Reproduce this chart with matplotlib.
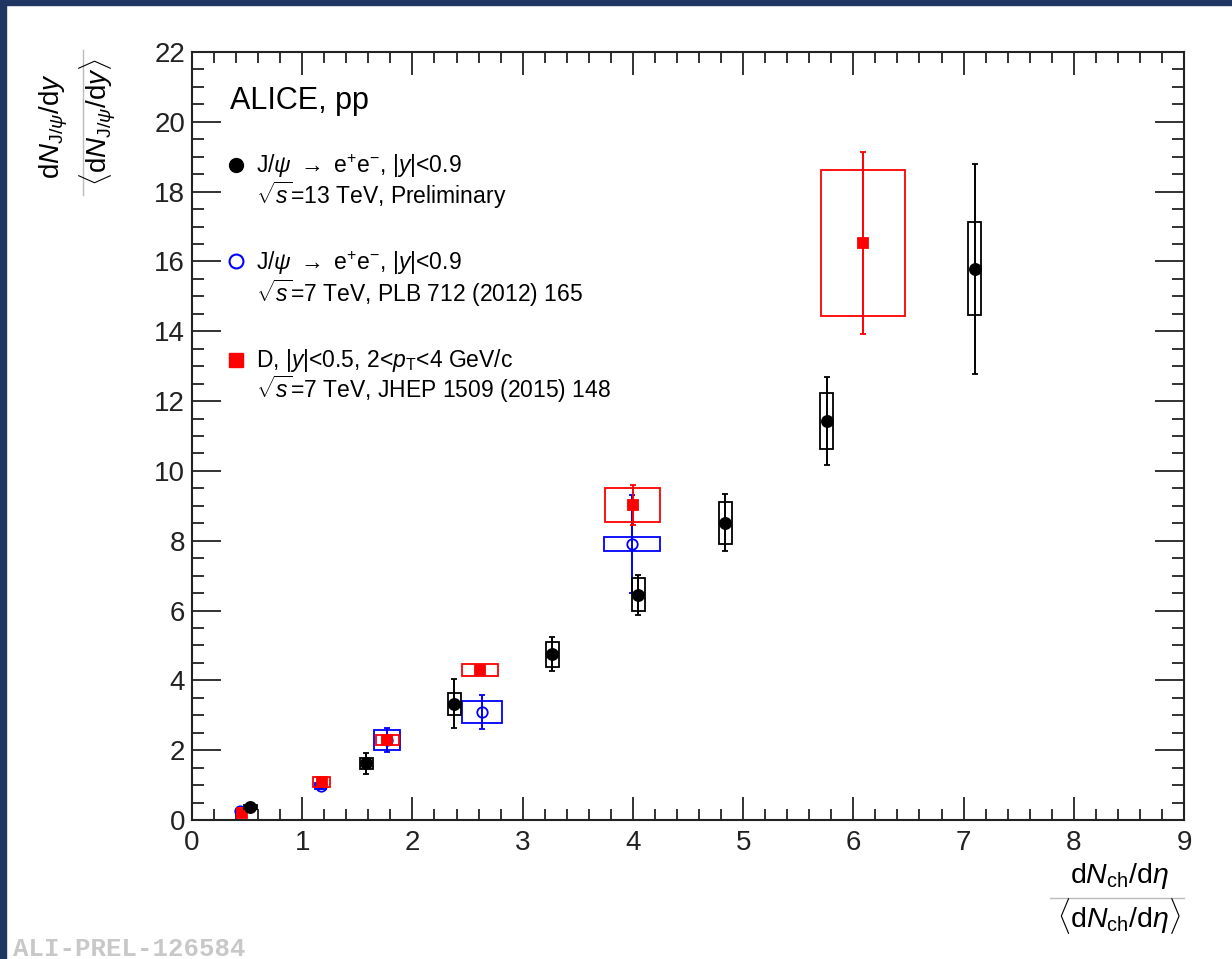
import numpy as np
import matplotlib
matplotlib.use('Agg')
import matplotlib.pyplot as plt
from matplotlib.patches import Rectangle
from matplotlib.lines import Line2D
from matplotlib.ticker import MultipleLocator

plt.rcParams['font.family'] = ['Liberation Sans', 'DejaVu Sans']
plt.rcParams['mathtext.fontset'] = 'custom'
plt.rcParams['mathtext.rm'] = 'Liberation Sans'
plt.rcParams['mathtext.it'] = 'Liberation Sans:italic'
plt.rcParams['mathtext.bf'] = 'Liberation Sans:bold'

# J/psi, pp 13 TeV (preliminary)
jpsi13_x = [0.53, 1.58, 2.38, 3.27, 4.05, 4.84, 5.76, 7.10]
jpsi13_y = [0.37, 1.62, 3.33, 4.75, 6.45, 8.52, 11.43, 15.79]
jpsi13_stat = [0.05, 0.31, 0.70, 0.49, 0.58, 0.82, 1.25, 3.00]
jpsi13_syst = [0.05, 0.15, 0.32, 0.36, 0.47, 0.60, 0.80, 1.33]
jpsi13_xw = [0.06, 0.06, 0.06, 0.06, 0.06, 0.06, 0.06, 0.06]

# J/psi, pp 7 TeV (PLB 712 (2012) 165)
jpsi7_x = [0.44, 1.17, 1.77, 2.63, 3.99]
jpsi7_y = [0.27, 0.97, 2.29, 3.10, 7.91]
jpsi7_stat = [0.05, 0.08, 0.35, 0.49, 1.40]
jpsi7_syst = [0.05, 0.08, 0.29, 0.32, 0.20]
jpsi7_xw = [0.03, 0.05, 0.12, 0.18, 0.255]

# D mesons, pp 7 TeV (JHEP 1509 (2015) 148)
d7_x = [0.45, 1.175, 1.77, 2.61, 4.00, 6.09]
d7_y = [0.20, 1.08, 2.29, 4.30, 9.03, 16.53]
d7_stat = [0.05, 0.08, 0.10, 0.08, 0.57, 2.60]
d7_syst = [0.10, 0.14, 0.14, 0.18, 0.48, 2.10]
d7_xw = [0.03, 0.08, 0.105, 0.162, 0.25, 0.38]

W, H = 1232, 959
fig = plt.figure(figsize=(W / 100, H / 100), dpi=100)
fig.patch.set_facecolor('white')
navy = '#1f3662'
fig.patches.append(Rectangle((0, 0), 6 / W, 1, transform=fig.transFigure, color=navy, zorder=-10))
fig.patches.append(Rectangle((0, 1 - 5 / H), 1, 5 / H, transform=fig.transFigure, color=navy, zorder=-10))

ax = fig.add_axes([192 / W, 1 - 820 / H, (1184 - 192) / W, (820 - 52) / H])


def draw(x, y, stat, syst, xw, color, marker, ms, mfc, z):
    x = np.array(x); y = np.array(y); syst = np.array(syst); xw = np.array(xw)
    # systematic uncertainty boxes
    ax.bar(x, 2 * syst, width=2 * xw, bottom=y - syst, fill=False,
           edgecolor=color, linewidth=1.3, zorder=z)
    # statistical uncertainty bars
    ax.errorbar(x, y, yerr=stat, fmt=marker, color=color, ms=ms, mfc=mfc,
                mec=color, mew=1.3, elinewidth=1.4, capsize=2.2, capthick=1.4, zorder=z + 0.5)


draw(jpsi7_x, jpsi7_y, jpsi7_stat, jpsi7_syst, jpsi7_xw, 'blue', 'o', 7.5, 'none', 2)
draw(d7_x, d7_y, d7_stat, d7_syst, d7_xw, 'red', 's', 6.5, 'red', 3)
draw(jpsi13_x, jpsi13_y, jpsi13_stat, jpsi13_syst, jpsi13_xw, 'black', 'o', 8, 'black', 4)

ax.set_xlim(0, 9)
ax.set_ylim(0, 22)
ax.xaxis.set_major_locator(MultipleLocator(1))
ax.xaxis.set_minor_locator(MultipleLocator(0.2))
ax.yaxis.set_major_locator(MultipleLocator(2))
ax.yaxis.set_minor_locator(MultipleLocator(0.5))
ax.tick_params(which='both', direction='in', top=True, right=True, width=1.3, colors='#222222')
ax.tick_params(axis='x', which='major', length=16.5, labelsize=20, pad=7)
ax.tick_params(axis='x', which='minor', length=8)
ax.tick_params(axis='y', which='major', length=21, labelsize=20, pad=5)
ax.tick_params(axis='y', which='minor', length=8.5)
for s in ax.spines.values():
    s.set_linewidth(1.5)
    s.set_color('#222222')

# legend-like annotations
ax.text(0.0383, 0.9254, 'ALICE, pp', fontsize=22, transform=ax.transAxes, va='baseline')
ax.plot([0.0444], [0.8529], 'o', color='black', ms=10, transform=ax.transAxes, clip_on=False)
ax.plot([0.0444], [0.7279], 'o', color='blue', mfc='none', mew=1.5, ms=10, transform=ax.transAxes, clip_on=False)
ax.plot([0.0444], [0.5990], 's', color='red', ms=10, transform=ax.transAxes, clip_on=False)
leg_lines = [
    (0.8428, r'J/$\psi$ $\rightarrow$ e$^{+}$e$^{-}$, $|y|$<0.9'),
    (0.8021, r'$\sqrt{s}$=13 TeV, Preliminary'),
    (0.7161, r'J/$\psi$ $\rightarrow$ e$^{+}$e$^{-}$, $|y|$<0.9'),
    (0.6749, r'$\sqrt{s}$=7 TeV, PLB 712 (2012) 165'),
    (0.5902, r'D, $|y|$<0.5, 2<$p_{\mathrm{T}}$<4 GeV/c'),
    (0.5495, r'$\sqrt{s}$=7 TeV, JHEP 1509 (2015) 148'),
]
for yy, txt in leg_lines:
    ax.text(0.0645, yy, txt, fontsize=16.5, transform=ax.transAxes, va='baseline')

# x-axis title (fraction)
fig.text(1119 / W, 1 - 883 / H, r'd$N_{\mathrm{ch}}$/d$\eta$', fontsize=20.5, ha='center', va='baseline')
fig.text(1119 / W, 1 - 927 / H, r'$\langle$d$N_{\mathrm{ch}}$/d$\eta\rangle$', fontsize=20.5, ha='center', va='baseline')
fig.lines.append(Line2D([1050 / W, 1184 / W], [1 - 898 / H, 1 - 898 / H], transform=fig.transFigure,
                        color='#bbbbbb', lw=1))

# y-axis title (fraction)
fig.text(60 / W, 1 - 126 / H, r'd$N_{\mathrm{J}/\psi}$/d$y$', fontsize=20, rotation=90,
         rotation_mode='anchor', ha='center', va='baseline')
fig.text(107 / W, 1 - 122 / H, r'$\langle$d$N_{\mathrm{J}/\psi}$/d$y\rangle$', fontsize=20, rotation=90,
         rotation_mode='anchor', ha='center', va='baseline')
fig.lines.append(Line2D([83 / W, 83 / W], [1 - 50 / H, 1 - 195 / H], transform=fig.transFigure,
                        color='#bbbbbb', lw=1))

fig.text(13 / W, 3 / H, 'ALI-PREL-126584', fontsize=18.5, family='Liberation Mono',
         weight='bold', color='#c8c8c8', va='baseline')

fig.savefig('out.png', dpi=100)
